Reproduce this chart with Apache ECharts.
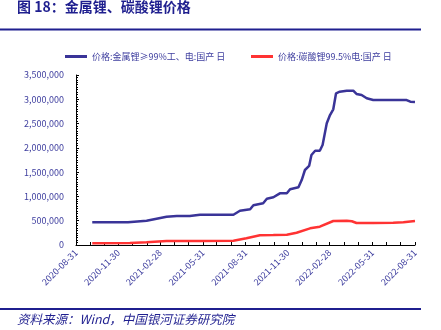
<!DOCTYPE html>
<html>
<head>
<meta charset="utf-8">
<script src="https://cdn.jsdelivr.net/npm/echarts@6/dist/echarts.min.js"></script>
<style>html,body{margin:0;padding:0;background:#fff;}#c{width:441px;height:330px;}</style>
</head>
<body>
<div id="c"></div>
<script>
// ---- data ----
var seriesNames = ['价格:金属锂≥99%工、电:国产 日', '价格:碳酸锂99.5%电:国产 日'];
var lithiumMetalDates = ['2020-10-05','2020-12-21','2021-01-30','2021-03-14','2021-04-05','2021-05-03','2021-05-25','2021-08-05','2021-08-19','2021-09-10','2021-09-17','2021-10-08','2021-10-16','2021-10-30','2021-11-13','2021-11-28','2021-12-05','2021-12-23','2021-12-30','2022-01-06','2022-01-15','2022-01-20','2022-01-28','2022-02-07','2022-02-13','2022-02-22','2022-03-01','2022-03-08','2022-03-14','2022-03-22','2022-04-06','2022-04-20','2022-04-27','2022-05-08','2022-05-19','2022-06-02','2022-08-13','2022-08-21','2022-08-31'];
var lithiumMetalValues = [467000,467000,500000,583000,597000,597000,624000,624000,706000,735000,817000,859000,953000,982000,1064000,1064000,1147000,1188000,1338000,1544000,1627000,1853000,1941000,1941000,2059000,2506000,2676000,2794000,3123000,3156000,3177000,3177000,3109000,3088000,3020000,2985000,2985000,2950000,2944000];
var carbonateDates = ['2020-10-05','2020-12-25','2021-01-30','2021-03-14','2021-05-25','2021-08-05','2021-09-02','2021-10-01','2021-10-30','2021-11-28','2021-12-19','2022-01-17','2022-02-07','2022-03-08','2022-04-06','2022-04-17','2022-04-27','2022-06-02','2022-07-15','2022-08-06','2022-08-31'];
var carbonateValues = [35000,41000,55000,82000,82000,89000,138000,200000,206000,213000,253000,343000,377000,494000,500000,488000,453000,453000,460000,467000,494000];
var xTickLabels = ['2020-08-31','2020-11-30','2021-02-28','2021-05-31','2021-08-31','2021-11-30','2022-02-28','2022-05-31','2022-08-31'];

var DAY=86400000;
function utc(s){var p=s.split('-');return Date.UTC(+p[0],+p[1]-1,+p[2]);}
var t0=utc(xTickLabels[0]);
function dayNum(s){return Math.round((utc(s)-t0)/DAY);}
function dayStr(n){var d=new Date(t0+n*DAY);var m=d.getUTCMonth()+1,dd=d.getUTCDate();return d.getUTCFullYear()+'-'+(m<10?'0':'')+m+'-'+(dd<10?'0':'')+dd;}
function pair(d,v){return d.map(function(x,i){return [dayNum(x),v[i]];});}
var xEnd=dayNum(xTickLabels[xTickLabels.length-1]);
// month-end tick positions
var monthTicks=[];
for(var y=2020;y<=2022;y++)for(var m=0;m<12;m++){var n=Math.round((Date.UTC(y,m+1,0)-t0)/DAY);if(n>=0&&n<=xEnd)monthTicks.push(n);}

var navy='#1f1f8f', lab='#3d3d9e';
var chart=echarts.init(document.getElementById('c'),null,{renderer:'canvas'});
chart.setOption({
  animation:false,
  textStyle:{fontFamily:'"Noto Sans CJK SC", "Noto Sans", sans-serif'},
  grid:{left:76,right:26,top:75,bottom:85,containLabel:false},
  legend:[
    {left:60,top:47,itemWidth:22,itemHeight:3,itemGap:4,icon:'rect',data:[seriesNames[0]],textStyle:{fontSize:9,color:lab}},
    {left:246,top:47,itemWidth:22,itemHeight:3,itemGap:4,icon:'rect',data:[seriesNames[1]],textStyle:{fontSize:9,color:lab}}
  ],
  xAxis:{type:'value',min:0,max:xEnd,
    axisLine:{lineStyle:{color:'#000',width:1}},
    axisTick:{show:true,inside:true,length:3,customValues:monthTicks,lineStyle:{color:'#000'}},
    axisLabel:{customValues:xTickLabels.map(dayNum),rotate:45,fontSize:9,color:lab,margin:6,
      formatter:function(v){return dayStr(v);}},
    splitLine:{show:false}},
  yAxis:{type:'value',min:0,max:3500000,interval:500000,
    axisLine:{show:true,lineStyle:{color:'#000',width:1}},
    axisTick:{show:true,inside:true,length:3,lineStyle:{color:'#000'}},
    minorTick:{show:true,splitNumber:10,length:2,lineStyle:{color:'#000'}},
    axisLabel:{fontSize:9,color:lab,margin:12,formatter:function(v){return v.toLocaleString('en-US');}},
    splitLine:{show:false}},
  series:[
    {name:seriesNames[0],type:'line',data:pair(lithiumMetalDates,lithiumMetalValues),showSymbol:false,lineStyle:{color:'#3a3498',width:2.5},itemStyle:{color:'#3a3498'}},
    {name:seriesNames[1],type:'line',data:pair(carbonateDates,carbonateValues),showSymbol:false,lineStyle:{color:'#ff3333',width:2.5},itemStyle:{color:'#ff3333'}}
  ],
  graphic:[
    {type:'text',left:17,top:0,style:{text:'图 18：金属锂、碳酸锂价格',font:'bold 14px "Noto Sans CJK SC", serif',fill:navy}},
    {type:'rect',shape:{x:0,y:28.5,width:421,height:2},style:{fill:navy}},
    {type:'rect',shape:{x:0,y:308,width:421,height:2},style:{fill:navy}},
    {type:'text',left:17,top:313,style:{text:'资料来源：Wind，中国银河证券研究院',font:'italic 12.5px "Noto Sans CJK SC", serif',fill:navy}}
  ]
});
</script>
</body>
</html>
